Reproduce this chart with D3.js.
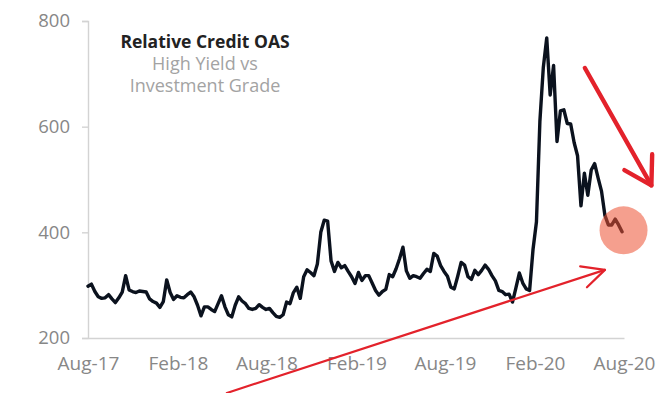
<!DOCTYPE html>
<html>
<head>
<meta charset="utf-8">
<script src="https://cdn.jsdelivr.net/npm/d3@7"></script>
<style>
  html, body { margin: 0; padding: 0; background: #fff; }
  svg { display: block; font-family: "Open Sans", "DejaVu Sans", sans-serif; }
</style>
</head>
<body>
<svg id="chart" width="668" height="393"></svg>
<script>
// Weekly HY minus IG option-adjusted spread (bp), first week of Aug 2017 onward
const seriesStart = "2017-08-01";
const spread = [
  298, 302, 288, 278, 275, 276, 282, 274, 267, 276,
  287, 318, 291, 288, 286, 289, 288, 287, 274, 269,
  266, 258, 269, 310, 286, 273, 280, 277, 276, 282,
  287, 278, 262, 242, 259, 259, 254, 250, 265, 280,
  259, 244, 240, 262, 278, 270, 265, 256, 254, 256,
  263, 258, 254, 256, 248, 241, 239, 244, 268, 265,
  286, 296, 275, 316, 329, 324, 318, 340, 400, 423,
  421, 346, 326, 343, 333, 337, 326, 316, 303, 324,
  309, 318, 318, 304, 290, 281, 288, 292, 320, 316,
  331, 350, 372, 327, 313, 318, 316, 313, 322, 330,
  326, 360, 355, 337, 326, 317, 296, 293, 317, 343,
  338, 316, 311, 328, 320, 328, 338, 330, 318, 308,
  290, 288, 282, 283, 268, 295, 323, 304, 293, 290,
  368, 420, 610, 712, 768, 660, 716, 572, 630, 632,
  606, 605, 570, 545, 450, 512, 470, 518, 530, 503,
  478, 432, 414, 414, 425, 414, 401
];

// Axis ticks
const xTickDates = ["2017-08-01", "2018-02-01", "2018-08-01", "2019-02-01", "2019-08-01", "2020-02-01", "2020-08-01"];
const xTickLabels = ["Aug-17", "Feb-18", "Aug-18", "Feb-19", "Aug-19", "Feb-20", "Aug-20"];
const yTicks = [200, 400, 600, 800];
const xDomain = ["2017-08-01", "2020-08-01"];
const yDomain = [200, 800];

// Title block
const titleText = "Relative Credit OAS";
const subtitleLines = ["High Yield vs", "Investment Grade"];

// Annotations: rising support line and falling trend arrow (date, spread)
const supportArrow = [["2018-05-12", 96], ["2020-06-23", 329]];
const declineArrow = [["2020-05-13", 711], ["2020-09-26", 489]];

const parse = d3.timeParse("%Y-%m-%d");
const t0 = parse(seriesStart);
const data = spread.map((v, i) => ({ date: d3.timeDay.offset(t0, 7 * i), value: v }));

const svg = d3.select("#chart");
const x = d3.scaleTime().domain(xDomain.map(parse)).range([88, 624]);
const y = d3.scaleLinear().domain(yDomain).range([338, 21]);

const axisColor = "#d3d3d3";
const labelColor = "#878787";

// Y axis
const gy = svg.append("g")
  .attr("transform", "translate(88,0)")
  .call(d3.axisLeft(y).tickValues(yTicks).tickSize(6).tickPadding(12).tickFormat(d3.format("d")));
gy.select(".domain").attr("stroke", axisColor).attr("stroke-width", 1.4);
gy.selectAll(".tick line").attr("stroke", axisColor).attr("stroke-width", 1.4);
gy.selectAll(".tick text")
  .attr("fill", labelColor)
  .style("font-size", "18.5px")
  .style("font-family", "'Open Sans', sans-serif");

// X axis
const tickMap = new Map(xTickDates.map((d, i) => [+parse(d), xTickLabels[i]]));
const gx = svg.append("g")
  .attr("transform", "translate(0,338)")
  .call(d3.axisBottom(x).tickValues(xTickDates.map(parse)).tickSize(0).tickPadding(19)
    .tickFormat(d => tickMap.get(+d)));
gx.select(".domain").attr("stroke", axisColor).attr("stroke-width", 1.4);
gx.selectAll(".tick text")
  .attr("fill", labelColor)
  .style("font-size", "19px")
  .style("font-family", "'Open Sans', sans-serif");

// Spread line
svg.append("path")
  .datum(data)
  .attr("fill", "none")
  .attr("stroke", "#0b121e")
  .attr("stroke-width", 3.4)
  .attr("stroke-linejoin", "round")
  .attr("stroke-linecap", "round")
  .attr("d", d3.line().x(d => x(d.date)).y(d => y(d.value)));

// Title
svg.append("text")
  .attr("x", 205).attr("y", 48)
  .attr("text-anchor", "middle")
  .attr("fill", "#222")
  .style("font-weight", 700)
  .style("font-size", "17.5px")
  .text(titleText);
svg.selectAll(".subtitle")
  .data(subtitleLines)
  .enter().append("text")
  .attr("class", "subtitle")
  .attr("x", 205)
  .attr("y", (d, i) => 70 + i * 22)
  .attr("text-anchor", "middle")
  .attr("fill", "#a3a3a3")
  .style("font-size", "18px")
  .text(d => d);

// Arrow helper: straight shaft with an open chevron head
function drawArrow(pts, width, headLen, headAngleDeg) {
  const [x1, y1] = [x(parse(pts[0][0])), y(pts[0][1])];
  const [x2, y2] = [x(parse(pts[1][0])), y(pts[1][1])];
  const ang = Math.atan2(y2 - y1, x2 - x1);
  const a = headAngleDeg * Math.PI / 180;
  const back = ang + Math.PI;
  const p1 = [x2 + headLen * Math.cos(back - a), y2 + headLen * Math.sin(back - a)];
  const p2 = [x2 + headLen * Math.cos(back + a), y2 + headLen * Math.sin(back + a)];
  const g = svg.append("g")
    .attr("fill", "none")
    .attr("stroke", "#e3222b")
    .attr("stroke-width", width)
    .attr("stroke-linecap", "round")
    .attr("stroke-linejoin", "round");
  g.append("path").attr("d", d3.line()([[x1, y1], [x2, y2]]));
  g.append("path").attr("d", d3.line()([p1, [x2, y2], p2]));
}
drawArrow(supportArrow, 2.2, 25, 26);
drawArrow(declineArrow, 4.4, 31, 31);

// Highlight on the latest reading
const last = data[data.length - 1];
svg.append("circle")
  .attr("cx", x(last.date) + 1.5)
  .attr("cy", y(last.value) - 1.5)
  .attr("r", 24)
  .attr("fill", "rgb(236,80,50)")
  .attr("fill-opacity", 0.55);
</script>
</body>
</html>
